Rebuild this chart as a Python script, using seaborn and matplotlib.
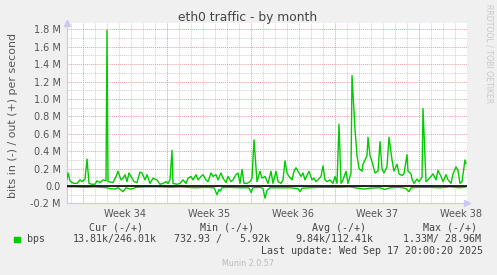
import matplotlib
matplotlib.use("Agg")
import matplotlib.pyplot as plt
import seaborn as sns
import pandas as pd

# ---- data (hours since left edge of graph, values in Mbit/s) ----
out_hours = [0, 2, 6, 10, 14, 20, 26, 30, 36, 40, 44, 50, 56, 60, 66, 72, 78, 80, 82,
             92, 98, 102, 108, 112, 116, 120, 124, 130, 134, 140, 146, 150, 156, 160,
             166, 172, 180, 186, 192, 198, 202, 206, 210, 212, 220, 226, 232, 238, 242,
             248, 252, 258, 262, 268, 272, 278, 282, 288, 292, 298, 302, 308, 312, 318,
             322, 328, 332, 338, 342, 346, 350, 354, 360, 366, 370, 374, 380, 386, 390,
             396, 402, 408, 412, 418, 422, 428, 432, 436, 440, 444, 450, 454, 458, 462,
             468, 472, 476, 480, 484, 490, 494, 498, 502, 508, 512, 516, 520, 526, 532,
             536, 540, 544, 548, 552, 558, 562, 568, 570, 576, 578, 580, 584, 590, 592,
             600, 602, 606, 610, 616, 622, 626, 630, 634, 640, 644, 650, 654, 660, 664,
             670, 674, 680, 682, 688, 690, 694, 700, 704, 710, 712, 718, 722, 728, 732,
             738, 742, 748, 752, 758, 762, 768, 772, 778, 782, 786, 790, 796, 798]
out_mbps = [0.08, 0.15, 0.06, 0.04, 0.03, 0.03, 0.07, 0.05, 0.08, 0.31, 0.03, 0.02, 0.02,
            0.06, 0.04, 0.07, 0.06, 1.79, 0.05,
            0.04, 0.11, 0.17, 0.07, 0.09, 0.13, 0.05, 0.15, 0.09, 0.05, 0.04, 0.16, 0.15,
            0.07, 0.13,
            0.03, 0.09, 0.07, 0.02, 0.03, 0.05, 0.03, 0.07, 0.41, 0.03, 0.02, 0.03, 0.07,
            0.03, 0.09,
            0.11, 0.07, 0.13, 0.07, 0.11, 0.13, 0.07, 0.05, 0.15, 0.11, 0.13, 0.07, 0.15,
            0.09, 0.04,
            0.11, 0.05, 0.07, 0.13, 0.15, 0.03, 0.19, 0.03, 0.03, 0.05, 0.09, 0.53, 0.05,
            0.17, 0.09,
            0.11, 0.03, 0.17, 0.03, 0.17, 0.05, 0.03, 0.07, 0.29, 0.15, 0.11, 0.07, 0.17,
            0.21, 0.17,
            0.11, 0.15, 0.07, 0.12, 0.17, 0.07, 0.09, 0.05, 0.07, 0.11, 0.23, 0.07, 0.05,
            0.07, 0.03,
            0.11, 0.03, 0.71, 0.03, 0.07, 0.17, 0.03, 0.15, 1.27, 0.65, 0.50, 0.35, 0.20,
            0.17, 0.25,
            0.35, 0.56, 0.35, 0.28, 0.15, 0.17, 0.51, 0.20, 0.15, 0.22, 0.56, 0.30, 0.17,
            0.25, 0.14,
            0.12, 0.14, 0.36, 0.17, 0.14, 0.08, 0.03, 0.08, 0.05, 0.10, 0.89, 0.05, 0.07,
            0.11, 0.14,
            0.07, 0.18, 0.11, 0.05, 0.13, 0.07, 0.03, 0.14, 0.22, 0.18, 0.03, 0.05, 0.30,
            0.26]

in_hours = [0, 16, 36, 56, 80, 86, 96, 102, 112, 118, 126, 132, 138, 156, 186, 206, 226,
            256, 276, 294, 300, 304, 306, 310, 326, 346, 364, 368, 372, 386, 392, 396,
            400, 406, 426, 446, 462, 466, 470, 486, 506, 526, 546, 566, 576, 586, 596,
            606, 626, 636, 646, 666, 678, 684, 688, 706, 726, 746, 766, 786, 798]
in_mbps = [-0.01, -0.01, -0.015, -0.01, -0.02, -0.03, -0.035, -0.02, -0.065, -0.02,
           -0.035, -0.03, -0.015, -0.01, -0.01, -0.015, -0.01,
           -0.02, -0.015, -0.02, -0.10, -0.04, -0.06, -0.02, -0.015, -0.02, -0.02,
           -0.075, -0.02, -0.015, -0.03, -0.14,
           -0.05, -0.02, -0.02, -0.02, -0.03, -0.065, -0.025, -0.02, -0.015, -0.015,
           -0.015, -0.01, -0.02, -0.03, -0.035,
           -0.025, -0.02, -0.04, -0.02, -0.015, -0.03, -0.065, -0.02, -0.015, -0.015,
           -0.02, -0.01, -0.02, -0.01]

week_labels = ["Week 34", "Week 35", "Week 36", "Week 37", "Week 38"]
week_label_hours = [116, 284, 452, 620, 788]
week_line_hours = [32, 200, 368, 536, 704]
day_line_hours = [h for h in range(8, 800, 24) if h not in week_line_hours]

ytick_values = [-0.2, 0.0, 0.2, 0.4, 0.6, 0.8, 1.0, 1.2, 1.4, 1.6, 1.8]
ytick_labels = ["-0.2 M", "0.0", "0.2 M", "0.4 M", "0.6 M", "0.8 M", "1.0 M",
                "1.2 M", "1.4 M", "1.6 M", "1.8 M"]
yminor_values = [-0.1, 0.1, 0.3, 0.5, 0.7, 0.9, 1.1, 1.3, 1.5, 1.7]

title = "eth0 traffic - by month"
ylabel = "bits in (-) / out (+) per second"
legend_name = "bps"
legend_headers = ["Cur (-/+)", "Min (-/+)", "Avg (-/+)", "Max (-/+)"]
legend_values = ["13.81k/246.01k", "732.93 /   5.92k", "9.84k/112.41k", "1.33M/ 28.96M"]
last_update = "Last update: Wed Sep 17 20:00:20 2025"
footer = "Munin 2.0.57"
watermark = "RRDTOOL / TOBI OETIKER"

# ---- styling ----
sns.set_style("white")
plt.rcParams["font.family"] = ["DejaVu Sans"]

W, H = 497, 275
fig = plt.figure(figsize=(W / 100, H / 100), dpi=100, facecolor="#F0F0F0")
ax = fig.add_axes([67 / W, 1 - 203.4 / H, 400 / W, (203.4 - 23) / H])
ax.set_facecolor("white")

GREEN = "#00CC00"
df_out = pd.DataFrame({"hour": out_hours, "val": out_mbps})
df_in = pd.DataFrame({"hour": in_hours, "val": in_mbps})

# grid
for h in day_line_hours:
    ax.axvline(h, color="#CFCFCF", lw=0.7, ls=(0, (1, 1)), zorder=0)
for v in yminor_values:
    ax.axhline(v, color="#CFCFCF", lw=0.7, ls=(0, (1, 1)), zorder=0)
for h in week_line_hours:
    ax.axvline(h, color="#E3A0A0", lw=0.7, ls=(0, (1, 1)), zorder=0.5)
for v in ytick_values[1:]:
    ax.axhline(v, color="#E3A0A0", lw=0.7, ls=(0, (1, 1)), zorder=0.5)

sns.lineplot(data=df_out, x="hour", y="val", ax=ax, color=GREEN, lw=1.0,
             estimator=None, zorder=3)
sns.lineplot(data=df_in, x="hour", y="val", ax=ax, color=GREEN, lw=1.0,
             estimator=None, zorder=3)
ax.axhline(0, color="black", lw=1.2, zorder=4)

ax.set_xlim(0, 800)
ax.set_ylim(-0.2, 1.873)
ax.set_xlabel("")
ax.set_ylabel("")

ax.set_xticks(week_label_hours)
ax.set_xticklabels(week_labels)
ax.set_yticks(ytick_values)
ax.set_yticklabels(ytick_labels)
ax.tick_params(axis="both", length=0, labelsize=7, colors="#555555")
ax.tick_params(axis="x", pad=4)
ax.tick_params(axis="y", pad=4.5)

for s in ["top", "right"]:
    ax.spines[s].set_visible(False)
for s in ["left", "bottom"]:
    ax.spines[s].set_color("#C8C8F0")
    ax.spines[s].set_linewidth(0.8)
ax.plot(1.0, 0, marker=">", color="#C8C8F0", ms=4, transform=ax.transAxes, clip_on=False)
ax.plot(0, 1.0, marker="^", color="#C8C8F0", ms=4, transform=ax.transAxes, clip_on=False)

# texts (figure pixel positions)
def ftext(x, y, s, **kw):
    fig.text(x / W, 1 - y / H, s, **kw)

ftext(248, 18, title, ha="center", va="center", fontsize=8.8, color="#444444")
ftext(13, 115, ylabel, ha="center", va="center", rotation=90, fontsize=7.9,
      color="#555555")
ftext(489, 54, watermark, ha="center", va="center", rotation=270, fontsize=5.6,
      color="#C8C8C8")

mono = dict(family="DejaVu Sans Mono", fontsize=7.2, color="#444444", va="center")
ftext(89.3, 228, legend_headers[0], ha="left", **mono)
ftext(200.3, 228, legend_headers[1], ha="left", **mono)
ftext(312.3, 228, legend_headers[2], ha="left", **mono)
ftext(422.7, 228, legend_headers[3], ha="left", **mono)
ftext(26.7, 239, legend_name, ha="left", **mono)
ftext(72.7, 239, legend_values[0], ha="left", **mono)
ftext(174.3, 239, legend_values[1], ha="left", **mono)
ftext(295, 239, legend_values[2], ha="left", **mono)
ftext(403.3, 239, legend_values[3], ha="left", **mono)
ftext(483, 251, last_update, ha="right", **mono)
ftext(248, 264, footer, ha="center", va="center", fontsize=5.8, color="#BBBBBB")

fig.patches.append(plt.Rectangle((14 / W, 1 - 242 / H), 5.5 / W, 5.5 / H,
                                 transform=fig.transFigure, color=GREEN))

fig.savefig("out.png", dpi=100, facecolor=fig.get_facecolor())
